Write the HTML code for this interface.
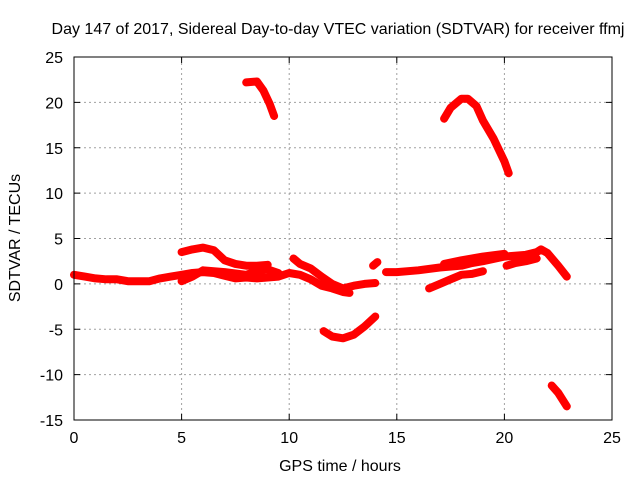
<!DOCTYPE html>
<html><head><meta charset="utf-8"><style>
body{margin:0;background:#fff;}
svg{display:block;font-family:"Liberation Sans",sans-serif;}
</style></head><body>
<svg id="chart" width="640" height="480">
<rect width="640" height="480" fill="#fff"/>
<text x="338" y="34" font-size="16" text-anchor="middle" fill="#000">Day 147 of 2017, Sidereal Day-to-day VTEC variation (SDTVAR) for receiver ffmj</text>
<text x="340" y="471" font-size="16" text-anchor="middle">GPS time / hours</text>
<text transform="translate(20,238) rotate(-90)" font-size="16" text-anchor="middle">SDTVAR / TECUs</text>
<g id="grid"></g><g id="ticks"></g><g id="marks"></g>
<rect x="74" y="57" width="538" height="363" fill="none" stroke="#000" stroke-width="1"/>
</svg>
<script>
const xTicks=[0,5,10,15,20,25];
const yTicks=[25,20,15,10,5,0,-5,-10,-15];
const trackLow=[[0,1.0],[0.5,0.8],[1,0.6],[1.5,0.5],[2,0.5],[2.5,0.3],[3,0.3],[3.5,0.3],[4,0.6],[4.5,0.8],[5,1.0],[5.5,1.2],[6,1.3],[6.5,1.2],[7,0.9],[7.5,0.6],[8,0.7],[8.5,0.6],[9,0.7],[9.5,0.8],[10,1.2],[10.5,1.0],[11,0.5],[11.5,-0.2],[12,-0.5],[12.5,-0.9],[12.8,-1.0]];
const trackUpper=[[5,3.5],[5.5,3.8],[6,4.0],[6.5,3.7],[7,2.6],[7.5,2.2],[8,2.0],[8.5,2.0],[9,2.1]];
const trackMid=[[5,0.3],[5.5,0.8],[6,1.5],[7,1.3],[8,1.0],[8.5,1.4],[9,1.6],[9.5,1.2]];
const trackDesc=[[10.2,2.8],[10.5,2.2],[11,1.7],[11.5,0.8],[12,0.0],[12.5,-0.5],[13,-0.2],[13.5,0],[14,0.1]];
const trackDot=[[13.9,2.0],[14.1,2.4]];
const trackEvening=[[14.5,1.3],[15,1.3],[16,1.5],[17,1.8],[18,2.0],[18.5,2.3],[19,2.5],[20,3.0],[21,3.2],[21.5,3.5],[21.7,3.8],[22,3.4],[22.5,2.0],[22.9,0.8]];
const trackRise=[[16.5,-0.5],[17,0],[17.5,0.5],[18,1],[18.5,1.1],[19,1.4]];
const trackRise2=[[17.2,2.2],[18,2.6],[19,3.0],[20,3.3]];
const trackCluster=[[20.1,2.0],[20.5,2.3],[21,2.5],[21.5,2.8]];
const trackNeg=[[11.6,-5.2],[12,-5.8],[12.5,-6.0],[13,-5.6],[13.5,-4.7],[14,-3.6]];
const trackTop1=[[8,22.2],[8.5,22.3],[8.8,21.3],[9.1,19.8],[9.3,18.5]];
const trackTop2=[[17.2,18.2],[17.5,19.4],[18,20.4],[18.3,20.4],[18.7,19.6],[19,18],[19.5,16],[20,13.5],[20.2,12.2]];
const trackBottom=[[22.2,-11.2],[22.5,-12],[22.9,-13.5]];
const tracks=[trackLow,trackUpper,trackMid,trackDesc,trackDot,trackEvening,trackRise,trackRise2,trackCluster,trackNeg,trackTop1,trackTop2,trackBottom];

const X0=74,X1=612,Y0=420,Y1=57;
const xs=v=>X0+(v-0)/(25-0)*(X1-X0);
const ys=v=>Y0-(v+15)/(40)*(Y0-Y1);
const NS="http://www.w3.org/2000/svg";
const grid=document.getElementById('grid'),ticks=document.getElementById('ticks'),marks=document.getElementById('marks');
function mk(t,a,p){const e=document.createElementNS(NS,t);for(const k in a)e.setAttribute(k,a[k]);p.appendChild(e);return e;}
xTicks.forEach(t=>{
  const x=xs(t);
  if(t>0&&t<25){const g=mk('line',{x1:x,x2:x,y1:Y0,y2:Y1,stroke:'#a0a0a0','stroke-dasharray':'2,3'},grid);
  
  }
  const l=mk('line',{x1:x,x2:x,y1:Y0,y2:Y0-6,stroke:'#000'},ticks);
  
  
  mk('line',{x1:x,x2:x,y1:Y1,y2:Y1+6,stroke:'#000'},ticks);
  const tx=mk('text',{x:x,y:443,'font-size':16,'text-anchor':'middle'},ticks);tx.textContent=t;
  
  
});
yTicks.forEach(t=>{
  const y=ys(t);
  if(t<25&&t>-15){const g=mk('line',{x1:X0,x2:X1,y1:y,y2:y,stroke:'#a0a0a0','stroke-dasharray':'2,3'},grid);
  
  }
  const l=mk('line',{x1:X0,x2:X0+6,y1:y,y2:y,stroke:'#000'},ticks);
  
  
  mk('line',{x1:X1,x2:X1-6,y1:y,y2:y,stroke:'#000'},ticks);
  const tx=mk('text',{x:63,y:y+6,'font-size':16,'text-anchor':'end'},ticks);tx.textContent=t;
  
  
});
tracks.forEach(tr=>{
  const pts=tr.map(p=>xs(p[0]).toFixed(1)+','+ys(p[1]).toFixed(1)).join(' ');
  const pl=mk('polyline',{points:pts,fill:'none',stroke:'#ff0000','stroke-width':8,'stroke-linejoin':'round','stroke-linecap':'round'},marks);
  
  
});
</script>
</body></html>
